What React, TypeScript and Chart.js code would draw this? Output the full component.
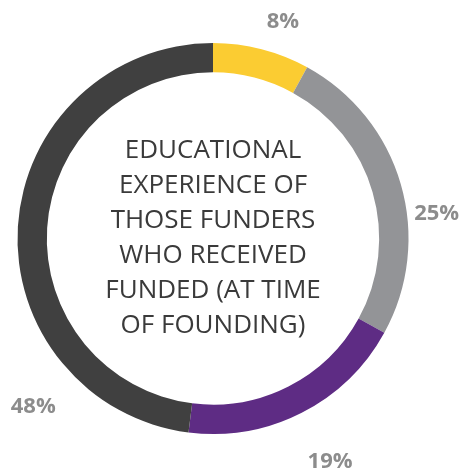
import React, { useEffect, useRef } from "react";
import { Chart, registerables } from "chart.js";

Chart.register(...registerables);

const categories = ["Group A", "Group B", "Group C", "Group D"];
const values = [8, 25, 19, 48];
const valueLabels = ["8%", "25%", "19%", "48%"];
const colors = ["#FBCC32", "#939497", "#5E2C84", "#404040"];
const centerLines = [
  "EDUCATIONAL",
  "EXPERIENCE OF",
  "THOSE FUNDERS",
  "WHO RECEIVED",
  "FUNDED (AT TIME",
  "OF FOUNDING)",
];
// label placement along each arc (fraction of the arc sweep) and distance from center
const labelFrac = [0.62, 0.61, 0.49, 0.23];
const labelDist = [228, 225, 252, 246];

const labelPlugin = {
  id: "ringLabels",
  afterDraw(chart: any) {
    const ctx = chart.ctx;
    const meta = chart.getDatasetMeta(0);
    ctx.save();
    ctx.textAlign = "center";
    ctx.textBaseline = "middle";
    ctx.font = "700 22px 'Open Sans', sans-serif";
    ctx.fillStyle = "#8C8C8C";
    meta.data.forEach((arc: any, i: number) => {
      const a = arc.startAngle + (arc.endAngle - arc.startAngle) * labelFrac[i];
      const r = labelDist[i];
      ctx.fillText(valueLabels[i], arc.x + Math.cos(a) * r, arc.y + Math.sin(a) * r);
    });
    const first = meta.data[0];
    const cx = first.x;
    const cy = first.y;
    ctx.font = "400 26px 'Open Sans', sans-serif";
    ctx.fillStyle = "#3A3A3A";
    const lh = 35;
    const top = cy - ((centerLines.length - 1) * lh) / 2;
    centerLines.forEach((l, i) => ctx.fillText(l, cx, top + i * lh));
    ctx.restore();
  },
};

export default function App() {
  const ref = useRef<HTMLCanvasElement>(null);
  useEffect(() => {
    const chart = new Chart(ref.current!, {
      type: "doughnut",
      data: {
        labels: categories,
        datasets: [
          {
            data: values,
            backgroundColor: colors,
            borderWidth: 0,
          },
        ],
      },
      options: {
        responsive: false,
        animation: false,
        cutout: "85%",
        layout: { padding: { left: 17.5, right: 53.5, top: 43, bottom: 38 } },
        plugins: { legend: { display: false }, tooltip: { enabled: false } },
      },
      plugins: [labelPlugin],
    });
    return () => chart.destroy();
  }, []);
  return (
    <div style={{ position: "fixed", left: 0, top: 0, width: 462, height: 472, background: "#fff" }}>
      <canvas ref={ref} width={462} height={472} />
    </div>
  );
}
